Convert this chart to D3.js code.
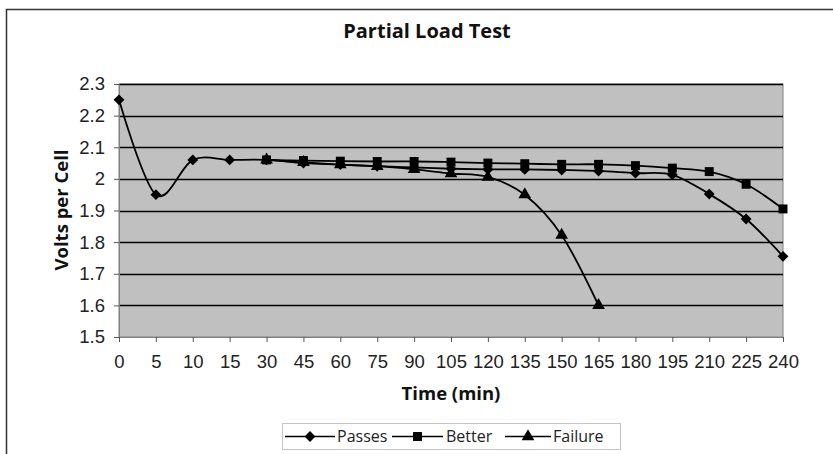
<!DOCTYPE html>
<html><head><meta charset="utf-8">
<script src="https://cdn.jsdelivr.net/npm/d3@7"></script>
<style>body{margin:0;background:#fff}svg{display:block}</style>
</head><body><svg id="c" width="833" height="454"></svg>
<script>
const categories = ["0","5","10","15","30","45","60","75","90","105","120","135","150","165","180","195","210","225","240"];
const passes  = [2.25,1.95,2.06,2.06,2.06,2.05,2.045,2.04,2.036,2.032,2.03,2.03,2.028,2.025,2.018,2.013,1.952,1.873,1.755];
const better  = [null,null,null,null,2.06,2.058,2.056,2.055,2.055,2.053,2.05,2.048,2.046,2.046,2.042,2.034,2.023,1.983,1.905];
const failure = [null,null,null,null,2.06,2.052,2.045,2.04,2.03,2.017,2.006,1.95,1.822,1.60,null,null,null,null,null];
const yTicks = [1.5,1.6,1.7,1.8,1.9,2.0,2.1,2.2,2.3];
const seriesNames = ["Passes","Better","Failure"];

const svg = d3.select("#c");
const L = 119, R = 783, T = 84, B = 337;
const x = d3.scalePoint().domain(categories).range([L, R]);
const y = d3.scaleLinear().domain([1.5, 2.3]).range([B, T]);
const font = "'Open Sans', sans-serif";
const tickFont = "'Liberation Sans', Arial, sans-serif";

// outer frame
svg.append("path").attr("d", "M6.5,454 L6.5,9.5 L833,9.5").attr("fill","none").attr("stroke","#333").attr("stroke-width",1.5);

// title
svg.append("text").attr("x", 427).attr("y", 38).attr("text-anchor","middle")
  .attr("font-family", font).attr("font-weight","bold").attr("font-size",20).attr("fill","#111").text("Partial Load Test");

// plot area
svg.append("rect").attr("x",L).attr("y",T).attr("width",R-L).attr("height",B-T).attr("fill","#c0c0c0").attr("stroke","#808080");

// gridlines
svg.append("g").selectAll("line").data(yTicks.slice(1)).join("line")
  .attr("x1",L).attr("x2",R).attr("y1",d=>Math.round(y(d))+0.5).attr("y2",d=>Math.round(y(d))+0.5)
  .attr("stroke","#000").attr("stroke-width",1.5);

// axes
const yAxis = d3.axisLeft(y).tickValues(yTicks).tickFormat(d=>d3.format("")(+d.toFixed(1))).tickSize(5).tickPadding(9);
const gy = svg.append("g").attr("transform",`translate(${L},0)`).call(yAxis);
gy.select(".domain").attr("stroke","#808080");
gy.selectAll(".tick line").attr("stroke","#555");
gy.selectAll("text").attr("font-family",tickFont).attr("font-size",18.5).attr("fill","#222");

const xAxis = d3.axisBottom(x).tickSize(5).tickPadding(13);
const gx = svg.append("g").attr("transform",`translate(0,${B})`).call(xAxis);
gx.select(".domain").attr("stroke","#808080");
gx.selectAll(".tick line").attr("stroke","#555");
gx.selectAll("text").attr("font-family",tickFont).attr("font-size",18.5).attr("fill","#222");

// axis titles
svg.append("text").attr("x",(L+R)/2).attr("y",400).attr("text-anchor","middle")
  .attr("font-family",font).attr("font-weight","bold").attr("font-size",18.5).attr("fill","#111").text("Time (min)");
svg.append("text").attr("transform","translate(68,210) rotate(-90)").attr("text-anchor","middle")
  .attr("font-family",font).attr("font-weight","bold").attr("font-size",18.5).attr("fill","#111").text("Volts per Cell");

// series
const line = d3.line().defined(d=>d.v!=null).x(d=>x(d.c)).y(d=>y(d.v)).curve(d3.curveCardinal.tension(0));
const symbols = [d3.symbolDiamond2, d3.symbolSquare, d3.symbolTriangle];
const sizes = [75, 80, 70];
[passes, better, failure].forEach((arr,i)=>{
  const pts = categories.map((c,j)=>({c, v: arr[j]})).filter(d=>d.v!=null);
  svg.append("path").datum(pts).attr("d", line).attr("fill","none").attr("stroke","#000").attr("stroke-width",1.8);
  svg.append("g").selectAll("path").data(pts).join("path")
    .attr("transform", d=>`translate(${x(d.c)},${y(d.v)})`)
    .attr("d", d3.symbol(symbols[i], sizes[i])).attr("fill","#000");
});

// legend
const lg = svg.append("g");
lg.append("rect").attr("x",282.5).attr("y",423.5).attr("width",338).attr("height",26)
  .attr("fill","#fff").attr("stroke","#888").attr("stroke-dasharray","1,1");
const items = [{x1:285,x2:335,tx:337},{x1:392,x2:443,tx:446},{x1:505,x2:551,tx:553}];
items.forEach((it,i)=>{
  lg.append("line").attr("x1",it.x1).attr("x2",it.x2).attr("y1",436.5).attr("y2",436.5).attr("stroke","#000").attr("stroke-width",1.6);
  lg.append("path").attr("transform",`translate(${(it.x1+it.x2)/2},436.5)`).attr("d", d3.symbol(symbols[i], sizes[i])()).attr("fill","#000");
  lg.append("text").attr("x",it.tx).attr("y",442).attr("font-family",font).attr("font-size",16).attr("fill","#222").text(seriesNames[i]);
});
</script></body></html>
